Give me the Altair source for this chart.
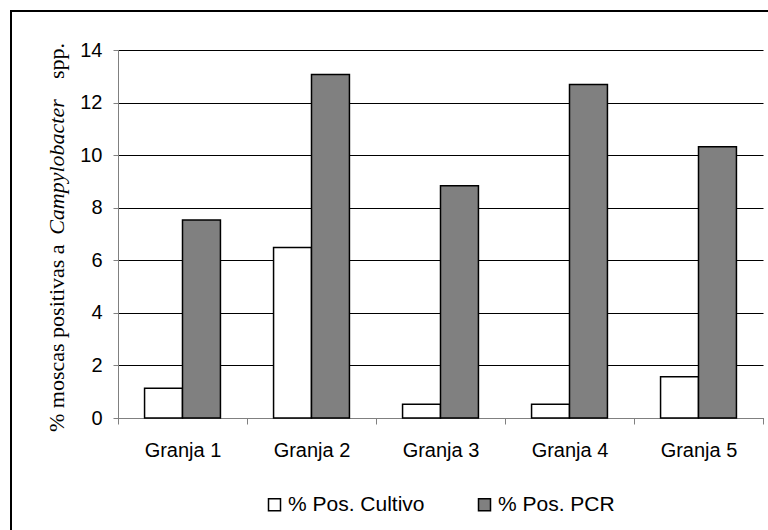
import altair as alt
import pandas as pd

granjas = ["Granja 1", "Granja 2", "Granja 3", "Granja 4", "Granja 5"]
cultivo = [1.13, 6.49, 0.52, 0.52, 1.57]
pcr = [7.53, 13.07, 8.84, 12.69, 10.32]
series = ["% Pos. Cultivo", "% Pos. PCR"]
y_ticks = [0, 2, 4, 6, 8, 10, 12, 14]
title_parts = ["% moscas positivas a", "Campylobacter", "spp."]

rows = []
for g, c, p in zip(granjas, cultivo, pcr):
    rows.append({"granja": g, "serie": series[0], "valor": c})
    rows.append({"granja": g, "serie": series[1], "valor": p})
df = pd.DataFrame(rows)

SANS = "Liberation Sans"
SERIF = "Liberation Serif"

bars = alt.Chart(df).mark_bar(stroke="black", strokeWidth=1.5).encode(
    x=alt.X(
        "granja:N", sort=granjas,
        scale=alt.Scale(paddingInner=0, paddingOuter=0),
        axis=alt.Axis(title=None, labelAngle=0, tickBand="extent", grid=False,
                      domainColor="#808080", tickColor="#808080", tickSize=6,
                      labelFont=SANS, labelFontSize=20, labelColor="black",
                      labelPadding=16),
    ),
    xOffset=alt.XOffset("serie:N", sort=series,
                        scale=alt.Scale(paddingInner=0, paddingOuter=0.7)),
    y=alt.Y(
        "valor:Q",
        scale=alt.Scale(domain=[0, 14], nice=False),
        axis=alt.Axis(title=None, values=y_ticks, grid=True, gridColor="black",
                      gridWidth=1, domainColor="#808080", tickColor="#808080",
                      tickSize=5, labelFont=SANS, labelFontSize=20,
                      labelColor="black", labelPadding=11),
    ),
    fill=alt.Fill(
        "serie:N",
        scale=alt.Scale(domain=series, range=["white", "#808080"]),
        legend=alt.Legend(title=None, orient="none", direction="horizontal",
                          legendX=146, legendY=444, padding=0,
                          symbolType="square", symbolSize=144,
                          symbolStrokeColor="black", symbolStrokeWidth=1.5,
                          labelFont=SANS, labelFontSize=21, labelColor="black",
                          labelOffset=3, columnPadding=49),
    ),
)

tdf = pd.DataFrame({"t": title_parts})

t1 = alt.Chart(tdf).transform_filter(alt.datum.t == title_parts[0]).mark_text(
    angle=270, align="left", baseline="alphabetic", font=SERIF, fontSize=22,
    color="black"
).encode(text="t:N", x=alt.value(-54), y=alt.value(382))

t2 = alt.Chart(tdf).transform_filter(alt.datum.t == title_parts[1]).mark_text(
    angle=270, align="center", baseline="alphabetic", font=SERIF, fontSize=22,
    fontStyle="italic", color="black"
).encode(text="t:N", x=alt.value(-54), y=alt.value(117))

t3 = alt.Chart(tdf).transform_filter(alt.datum.t == title_parts[2]).mark_text(
    angle=270, align="right", baseline="alphabetic", font=SERIF, fontSize=22,
    color="black"
).encode(text="t:N", x=alt.value(-54), y=alt.value(-7))

frame = alt.Chart(pd.DataFrame({"k": [0]})).mark_rect(
    fillOpacity=0, stroke="black", strokeWidth=2
).encode(x=alt.value(-107), x2=alt.value(660), y=alt.value(-39), y2=alt.value(500))

chart = alt.layer(bars, t1, t2, t3, frame).properties(
    width=645, height=368,
    padding={"left": 118, "top": 50, "right": 5, "bottom": 112},
    autosize=alt.AutoSizeParams(type="none"),
).configure_view(strokeWidth=0)

chart.save("out.html", embed_options={"renderer": "svg", "actions": False})
